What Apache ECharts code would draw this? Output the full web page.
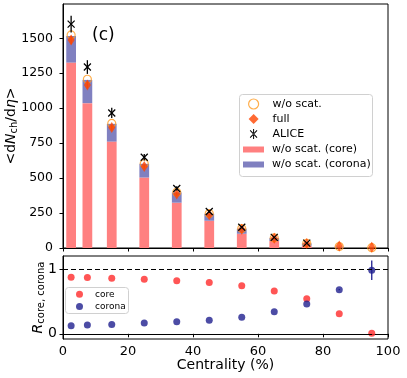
<!DOCTYPE html>
<html>
<head>
<meta charset="utf-8">
<script src="https://cdn.jsdelivr.net/npm/echarts@6/dist/echarts.min.js"></script>
<style>
  html, body { margin: 0; padding: 0; background: #fff; }
  #chart { width: 407px; height: 378px; }
</style>
</head>
<body>
<div id="chart"></div>
<script>
// centrality bin centres (%)
const centrality = [2.5, 7.5, 15, 25, 35, 45, 55, 65, 75, 85, 95];
// w/o scat. multiplicity split into core and corona parts (stacked bars)
const coreMult = [1326, 1036, 761, 504, 324, 195, 102, 50, 16, 3, 0.5];
const coronaMult = [190, 166, 127, 98, 73, 50, 36, 21, 17, 6, 0.5];
// model points
const woScat = [1524, 1207, 891, 604, 399, 246, 139, 72, 34, 10, 2];
const full = [1488, 1166, 861, 583, 386, 238, 134, 70, 33, 14, 5];
const fullErr = [30, 25, 20, 15, 12, 9, 6, 4, 3, 2, 1];
// ALICE data
const aliceCent = [2.5, 7.5, 15, 25, 35, 45, 55, 65, 75];
const alice = [1601, 1294, 966, 649, 426, 261, 149, 76, 35];
const aliceErr = [60, 49, 37, 23, 15, 9, 6, 4, 2];
// core / corona fractions (lower panel)
const rCore = [0.872, 0.867, 0.857, 0.84, 0.82, 0.79, 0.74, 0.66, 0.54, 0.31, 0.01];
const rCorona = [0.125, 0.135, 0.145, 0.166, 0.186, 0.21, 0.257, 0.34, 0.46, 0.68, 0.98];
const rCoronaErr = [0, 0, 0, 0, 0, 0, 0, 0, 0, 0.01, 0.15];
// axis ticks
const topTicks = [0, 250, 500, 750, 1000, 1250, 1500];
const ratioTicks = [0, 1];

const FONT = 'DejaVu Sans';
const BAR_W = 3; // bar width in centrality units
const CORE_C = '#ff8080';
const CORONA_C = '#8080c0';
const chart = echarts.init(document.getElementById('chart'));

function pairs(xs, ys) { return xs.map((x, i) => [x, ys[i]]); }
function triples(xs, ys, es) { return xs.map((x, i) => [x, ys[i], es[i]]); }

// stacked bar drawn from base (value 1) to base + height (value 2)
function barItem(color) {
  return function (params, api) {
    const x = api.value(0), base = api.value(1), h = api.value(2);
    const p0 = api.coord([x, base]);
    const p1 = api.coord([x, base + h]);
    const w = api.size([BAR_W, 0])[0];
    return {
      type: 'rect',
      shape: { x: p0[0] - w / 2, y: p1[1], width: w, height: p0[1] - p1[1] },
      style: { fill: color }
    };
  };
}

// vertical error bar
function errorBar(color, width) {
  return function (params, api) {
    const x = api.value(0), y = api.value(1), e = api.value(2);
    const lo = api.coord([x, y - e]);
    const hi = api.coord([x, y + e]);
    return {
      type: 'line',
      shape: { x1: lo[0], y1: lo[1], x2: hi[0], y2: hi[1] },
      style: { stroke: color, lineWidth: width }
    };
  };
}

// ALICE: 'x' marker plus error bar
function aliceItem(params, api) {
  const x = api.value(0), y = api.value(1), e = api.value(2);
  const c = api.coord([x, y]);
  const lo = api.coord([x, y - e]);
  const hi = api.coord([x, y + e]);
  const s = 3.5;
  const st = { stroke: '#000', lineWidth: 1.3 };
  return {
    type: 'group',
    children: [
      { type: 'line', shape: { x1: lo[0], y1: lo[1], x2: hi[0], y2: hi[1] }, style: st },
      { type: 'line', shape: { x1: c[0] - s, y1: c[1] - s, x2: c[0] + s, y2: c[1] + s }, style: st },
      { type: 'line', shape: { x1: c[0] - s, y1: c[1] + s, x2: c[0] + s, y2: c[1] - s }, style: st }
    ]
  };
}

const aliceIcon = 'path://M4.5,0H5.5V10H4.5Z M1.2,1.8L1.9,1.1L8.8,8.2L8.1,8.9Z M8.8,1.8L8.1,1.1L1.2,8.2L1.9,8.9Z';

const axisLine = { show: true, lineStyle: { color: '#000', width: 1 } };
const tickStyle = { show: true, inside: false, length: 3.5, lineStyle: { color: '#000' } };
const plain = v => String(v);
const gridBase = { left: 63, right: 19, show: true, borderColor: '#000', borderWidth: 1, backgroundColor: 'transparent', outerBoundsMode: 'none', containLabel: false };

const option = {
  animation: false,
  textStyle: { fontFamily: FONT },
  grid: [
    Object.assign({ top: 4, height: 244 }, gridBase),
    Object.assign({ top: 256, height: 83 }, gridBase)
  ],
  xAxis: [
    {
      gridIndex: 0, type: 'value', min: 0, max: 100, interval: 20,
      axisLine: axisLine, axisTick: tickStyle, axisLabel: { show: false }, splitLine: { show: false }
    },
    {
      gridIndex: 1, type: 'value', min: 0, max: 100, interval: 20,
      axisLine: axisLine, axisTick: tickStyle, splitLine: { show: false },
      axisLabel: { color: '#000', fontSize: 13, fontFamily: FONT, margin: 6, formatter: plain },
      name: 'Centrality (%)', nameLocation: 'middle', nameGap: 19, nameMoveOverlap: false,
      nameTextStyle: { color: '#000', fontSize: 14, fontFamily: FONT }
    }
  ],
  yAxis: [
    {
      gridIndex: 0, type: 'value', min: 0, max: 1745,
      axisLine: axisLine, splitLine: { show: false },
      axisTick: Object.assign({}, tickStyle, { customValues: topTicks }),
      axisLabel: { color: '#000', fontSize: 12.5, fontFamily: FONT, margin: 10, customValues: topTicks, formatter: plain },
      name: '<d{i|N}{s|ch}/d{i|η}>', nameLocation: 'middle', nameRotate: 90, nameGap: 44, nameMoveOverlap: false,
      nameTextStyle: {
        color: '#000', fontSize: 14, fontFamily: FONT,
        rich: {
          i: { fontStyle: 'italic', fontSize: 14, fontFamily: FONT, color: '#000' },
          s: { fontSize: 10, fontFamily: FONT, color: '#000', padding: [6, 0, 0, 0] }
        }
      }
    },
    {
      gridIndex: 1, type: 'value', min: -0.08, max: 1.2,
      axisLine: axisLine, splitLine: { show: false },
      axisTick: Object.assign({}, tickStyle, { customValues: ratioTicks }),
      axisLabel: { color: '#000', fontSize: 14, fontFamily: FONT, margin: 6, customValues: ratioTicks, formatter: plain },
      name: '{i|R}{s|core, corona}', nameLocation: 'middle', nameRotate: 90, nameGap: 17, nameMoveOverlap: false,
      nameTextStyle: {
        color: '#000', fontSize: 14, fontFamily: FONT,
        rich: {
          i: { fontStyle: 'italic', fontSize: 14, fontFamily: FONT, color: '#000' },
          s: { fontSize: 10, fontFamily: FONT, color: '#000', padding: [6, 0, 0, 0] }
        }
      }
    }
  ],
  legend: [
    {
      left: 248, top: 96.5, orient: 'vertical', padding: 0, itemGap: 0,
      itemWidth: 10, itemHeight: 10,
      textStyle: { fontSize: 11, fontFamily: FONT, color: '#000', lineHeight: 15, padding: [0, 0, 0, 9] },
      data: [
        { name: 'w/o scat.', icon: 'circle', itemStyle: { color: 'rgba(0,0,0,0)', borderColor: '#ff9a1f', borderWidth: 1.2 } },
        { name: 'full', icon: 'diamond', itemStyle: { color: '#ff4500' } },
        { name: 'ALICE', icon: aliceIcon, itemStyle: { color: '#000' } }
      ]
    },
    {
      left: 243, top: 142, orient: 'vertical', padding: 0, itemGap: 0,
      itemWidth: 21, itemHeight: 6,
      textStyle: { fontSize: 11, fontFamily: FONT, color: '#000', lineHeight: 15, padding: [0, 0, 0, 3] },
      data: [
        { name: 'w/o scat. (core)', icon: 'rect', itemStyle: { color: CORE_C } },
        { name: 'w/o scat. (corona)', icon: 'rect', itemStyle: { color: CORONA_C } }
      ]
    },
    {
      left: 76, top: 288, orient: 'vertical', padding: 0, itemGap: 0,
      itemWidth: 7, itemHeight: 7,
      textStyle: { fontSize: 9, fontFamily: FONT, color: '#000', lineHeight: 12.4, padding: [0, 0, 0, 7] },
      data: [
        { name: 'core', icon: 'circle' },
        { name: 'corona', icon: 'circle' }
      ]
    }
  ],
  graphic: [
    { type: 'rect', left: 239, top: 94, z: 3, shape: { width: 133, height: 82, r: 3 }, style: { fill: '#fff', stroke: '#d0d0d0', lineWidth: 1 } },
    { type: 'rect', left: 65, top: 287, z: 3, shape: { width: 63, height: 26, r: 3 }, style: { fill: '#fff', stroke: '#d0d0d0', lineWidth: 1 } },
    { type: 'text', left: 92, top: 27, z: 5, style: { text: '(c)', fontSize: 17, fontFamily: FONT, fill: '#000' } }
  ],
  series: [
    {
      name: 'w/o scat. (core)', type: 'custom', xAxisIndex: 0, yAxisIndex: 0,
      renderItem: barItem(CORE_C), encode: { x: 0, y: [1, 2] },
      data: centrality.map((x, i) => [x, 0, coreMult[i]])
    },
    {
      name: 'w/o scat. (corona)', type: 'custom', xAxisIndex: 0, yAxisIndex: 0,
      renderItem: barItem(CORONA_C), encode: { x: 0, y: [1, 2] },
      data: centrality.map((x, i) => [x, coreMult[i], coronaMult[i]])
    },
    {
      name: 'w/o scat.', type: 'scatter', xAxisIndex: 0, yAxisIndex: 0, symbol: 'circle', symbolSize: 8,
      itemStyle: { color: 'rgba(0,0,0,0)', borderColor: '#ff9a1f', borderWidth: 1.2 },
      data: pairs(centrality, woScat), z: 3
    },
    {
      name: 'fullErr', type: 'custom', xAxisIndex: 0, yAxisIndex: 0,
      renderItem: errorBar('#ff4500', 1.3), encode: { x: 0, y: 1 },
      data: triples(centrality, full, fullErr), z: 4
    },
    {
      name: 'full', type: 'scatter', xAxisIndex: 0, yAxisIndex: 0, symbol: 'diamond', symbolSize: [7, 11],
      itemStyle: { color: '#ff4500' }, data: pairs(centrality, full), z: 4
    },
    {
      name: 'ALICE', type: 'custom', xAxisIndex: 0, yAxisIndex: 0,
      renderItem: aliceItem, encode: { x: 0, y: 1 },
      data: triples(aliceCent, alice, aliceErr), z: 5
    },
    {
      name: 'core', type: 'scatter', xAxisIndex: 1, yAxisIndex: 1, symbol: 'circle', symbolSize: 7,
      itemStyle: { color: '#ff2a2a' }, data: pairs(centrality, rCore), z: 4,
      markLine: {
        silent: true, symbol: 'none', label: { show: false },
        lineStyle: { type: [5, 3], color: '#000', width: 1 },
        data: [{ yAxis: 0 }, { yAxis: 1 }]
      }
    },
    {
      name: 'coronaErr', type: 'custom', xAxisIndex: 1, yAxisIndex: 1,
      renderItem: errorBar('#1f1f8f', 1.3), encode: { x: 0, y: 1 },
      data: triples(centrality, rCorona, rCoronaErr), z: 4
    },
    {
      name: 'corona', type: 'scatter', xAxisIndex: 1, yAxisIndex: 1, symbol: 'circle', symbolSize: 7,
      itemStyle: { color: '#1f1f8f' }, data: pairs(centrality, rCorona), z: 4
    }
  ]
};

chart.setOption(option);
</script>
</body>
</html>
